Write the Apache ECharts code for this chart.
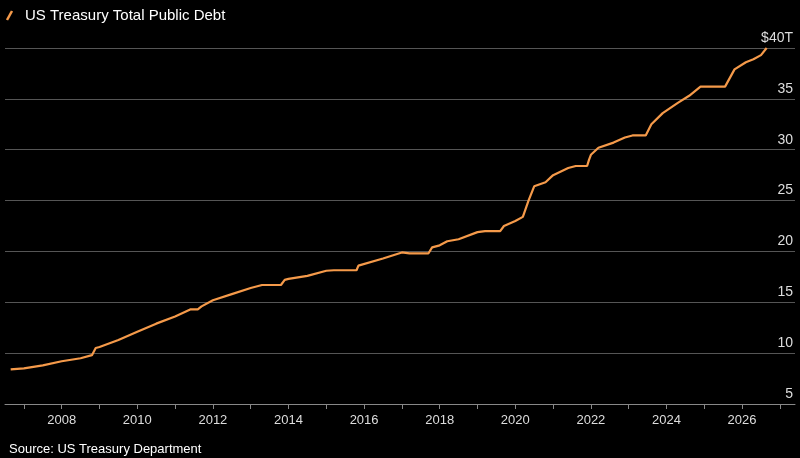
<!DOCTYPE html>
<html><head><meta charset="utf-8">
<script src="https://cdn.jsdelivr.net/npm/echarts@6/dist/echarts.min.js"></script>
<style>html,body{margin:0;background:#000;}#c{width:800px;height:458px;}</style>
</head><body><div id="c"></div>
<script>
const years = [2006.65,2007.0,2007.5,2008.0,2008.5,2008.8,2008.9,2009.0,2009.5,2010.0,2010.5,2011.0,2011.4,2011.6,2011.7,2012.0,2012.5,2013.0,2013.3,2013.8,2013.9,2014.0,2014.5,2015.0,2015.2,2015.8,2015.85,2016.5,2017.0,2017.2,2017.7,2017.8,2018.0,2018.2,2018.5,2019.0,2019.2,2019.6,2019.7,2020.0,2020.2,2020.35,2020.5,2020.8,2021.0,2021.4,2021.6,2021.9,2021.95,2022.0,2022.2,2022.6,2022.9,2023.1,2023.45,2023.6,2023.9,2024.3,2024.6,2024.9,2025.0,2025.55,2025.8,2026.1,2026.3,2026.5,2026.65];
const debt = [8.4,8.5,8.8,9.2,9.5,9.8,10.5,10.6,11.3,12.1,12.9,13.6,14.3,14.3,14.6,15.2,15.8,16.4,16.7,16.7,17.2,17.3,17.6,18.1,18.15,18.15,18.6,19.3,19.9,19.8,19.8,20.4,20.6,21.0,21.2,21.9,22.0,22.0,22.5,23.0,23.4,25.0,26.4,26.8,27.5,28.2,28.4,28.4,29.0,29.5,30.2,30.7,31.2,31.4,31.4,32.5,33.6,34.6,35.3,36.2,36.2,36.2,37.9,38.6,38.9,39.3,40.0];
const labelYears = [2008,2010,2012,2014,2016,2018,2020,2022,2024,2026];
const tickYears = [2007,2008,2009,2010,2011,2012,2013,2014,2015,2016,2017,2018,2019,2020,2021,2022,2023,2024,2025,2026,2027];
const yTicks = [5,10,15,20,25,30,35,40];
const font = "'Liberation Sans Narrow','Arial Narrow',sans-serif";
const chart = echarts.init(document.getElementById('c'));
chart.setOption({
  backgroundColor:'#000',
  animation:false,
  title:[{text:'US Treasury Total Public Debt',left:20,top:3,textStyle:{color:'#fff',fontSize:15,fontWeight:'normal',fontFamily:font}},
         {text:'Source: US Treasury Department',left:4,top:438,textStyle:{color:'#fff',fontSize:13,fontWeight:'normal',fontFamily:font}}],
  graphic:[{type:'line',shape:{x1:7,y1:20,x2:12,y2:11},style:{stroke:'#f59a4a',lineWidth:2.5}}],
  grid:{left:5,right:5,top:48,bottom:54},
  xAxis:{type:'value',min:2006.5,max:2027.4,
    axisLine:{show:true,lineStyle:{color:'#888'}},
    axisTick:{show:true,customValues:tickYears,length:5,lineStyle:{color:'#888'}},
    axisLabel:{customValues:labelYears,color:'#ddd',fontSize:13,fontFamily:font,margin:10,formatter:v=>String(v)},
    splitLine:{show:false}},
  yAxis:{type:'value',position:'right',min:5,max:40,interval:5,
    axisLine:{show:false},axisTick:{show:false},
    axisLabel:{inside:true,margin:2,verticalAlign:'bottom',align:'right',color:'#ddd',fontSize:14,fontFamily:font,
      formatter:v=>v===40?'$40T':String(v),padding:[0,0,3,0]},
    splitLine:{lineStyle:{color:'#555',width:1}}},
  series:[{type:'line',data:years.map((y,i)=>[y,debt[i]]),showSymbol:false,
    lineStyle:{color:'#f59a4a',width:2.2},itemStyle:{color:'#f59a4a'}}]
});
</script></body></html>
